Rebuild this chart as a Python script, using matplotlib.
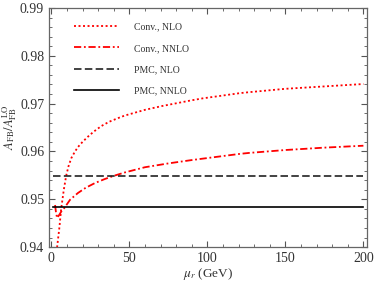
import matplotlib
matplotlib.use("Agg")
import matplotlib.pyplot as plt
from matplotlib.ticker import MultipleLocator

plt.rcParams["font.family"] = ["Liberation Serif", "DejaVu Serif"]
plt.rcParams["mathtext.fontset"] = "stix"

# Conv., NLO
mu_nlo = [3.5, 3.7, 5.2, 6.3, 8.0, 9.5, 11, 12.8, 15, 17, 20, 23.5, 27, 32, 37, 43,
          47, 60, 71, 90, 97, 121, 127, 150, 175, 200]
a_nlo = [0.9390, 0.9400, 0.9442, 0.9480, 0.9520, 0.9549, 0.9569, 0.9586, 0.9599,
         0.9609, 0.9620, 0.9631, 0.9641, 0.9653, 0.9662, 0.9670, 0.9675, 0.9687,
         0.9695, 0.9707, 0.9711, 0.9722, 0.9724, 0.9731, 0.9736, 0.9741]

# Conv., NNLO
mu_nnlo = [2.4, 3.0, 3.7, 5.0, 6.5, 8.4, 12, 17, 22, 28, 34, 40, 47, 60, 75, 90,
           121, 127, 150, 175, 200]
a_nnlo = [0.9488, 0.9472, 0.9461, 0.9467, 0.9475, 0.9482, 0.9499, 0.9513, 0.9524,
          0.9534, 0.9542, 0.9549, 0.9556, 0.9567, 0.9575, 0.9582, 0.9595, 0.9597,
          0.9603, 0.9608, 0.9612]

# PMC
mu_pmc = [1, 200]
a_pmc_nlo = [0.9549, 0.9549]
a_pmc_nnlo = [0.9484, 0.9484]

fig = plt.figure(figsize=(3.74, 2.85), dpi=100)
ax = fig.add_axes([0.131, 0.133, 0.849, 0.839])

ax.plot(mu_nlo, a_nlo, color="red", lw=1.3, linestyle=(0, (1.1, 1.4)),
        label="Conv., NLO")
ax.plot(mu_nnlo, a_nnlo, color="red", lw=1.3, linestyle=(0, (4, 1.5, 1, 1.5)),
        label="Conv., NNLO")
ax.plot(mu_pmc, a_pmc_nlo, color="#222222", lw=1.2, linestyle=(0, (4.5, 2)),
        label="PMC, NLO")
ax.plot(mu_pmc, a_pmc_nnlo, color="black", lw=1.2, label="PMC, NNLO")

ax.set_xlim(-1.5, 202)
ax.set_ylim(0.94, 0.99)
ax.xaxis.set_major_locator(MultipleLocator(50))
ax.xaxis.set_minor_locator(MultipleLocator(10))
ax.yaxis.set_major_locator(MultipleLocator(0.01))
ax.yaxis.set_minor_locator(MultipleLocator(0.002))
ax.yaxis.set_major_formatter(plt.FormatStrFormatter("%.2f"))

ax.tick_params(which="both", direction="in", top=True, right=True,
               colors="#555555", labelcolor="#333333", labelsize=10)
ax.tick_params(which="major", length=4, width=0.8)
ax.tick_params(which="minor", length=2, width=0.6)
for s in ax.spines.values():
    s.set_color("#666666")
    s.set_linewidth(0.9)

ax.set_xlabel(r"$\mu_r$ (GeV)", fontsize=9.5, color="#333333", labelpad=1)
ax.set_ylabel(r"$A_{\rm FB}/A_{\rm FB}^{\rm LO}$", fontsize=9, color="#333333")
ax.yaxis.set_label_coords(-0.095, 0.5)

leg = ax.legend(loc="upper left", bbox_to_anchor=(0.065, 0.955), frameon=False,
                fontsize=7, handlelength=4.7, handletextpad=1.5,
                labelspacing=1.25, borderaxespad=0)
for t in leg.get_texts():
    t.set_color("#333333")

fig.savefig("out.png", dpi=100)
